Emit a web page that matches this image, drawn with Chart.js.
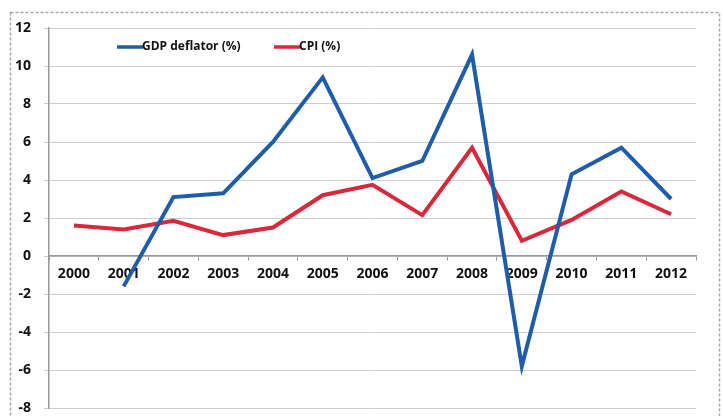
<!DOCTYPE html>
<html>
<head>
<meta charset="utf-8">
<script src="https://cdn.jsdelivr.net/npm/chart.js@4.4.1/dist/chart.umd.min.js"></script>
<style>
  html, body { margin: 0; padding: 0; background: #fff; }
  #wrap { position: relative; width: 723px; height: 416px; }
</style>
</head>
<body>
<div id="wrap"><canvas id="chart" width="723" height="416"></canvas></div>
<script>
// GDP deflator vs CPI, 2000-2012

var years = ['2000', '2001', '2002', '2003', '2004', '2005', '2006', '2007', '2008', '2009', '2010', '2011', '2012'];
var gdpDeflator = [null, -1.6, 3.1, 3.3, 6.0, 9.4, 4.1, 5.0, 10.6, -5.8, 4.3, 5.7, 3.0];
var cpi = [1.6, 1.4, 1.85, 1.1, 1.5, 3.2, 3.75, 2.15, 5.7, 0.8, 1.9, 3.4, 2.2];
var yTicks = [-8, -6, -4, -2, 0, 2, 4, 6, 8, 10, 12];

var BLUE = '#1F5CAA';
var RED = '#D8283C';
var FONT = 'Open Sans, sans-serif';

// scanned-looking frame around the whole figure
var framePlugin = {
  id: 'frame',
  beforeDraw: function (chart) {
    var ctx = chart.ctx;
    ctx.save();
    ctx.strokeStyle = '#a8a8a8';
    ctx.lineWidth = 1.5;
    ctx.setLineDash([3, 2]);
    ctx.strokeRect(10.5, 12.5, 709, 410);
    ctx.restore();
  }
};

// legend drawn inside the plot, left of centre
var legendPlugin = {
  id: 'insideLegend',
  afterDraw: function (chart) {
    var ctx = chart.ctx;
    var xs = [117, 274];
    var y = 47;
    chart.data.datasets.forEach(function (ds, i) {
      var x = xs[i];
      ctx.save();
      ctx.strokeStyle = ds.borderColor;
      ctx.lineWidth = 3.5;
      ctx.beginPath();
      ctx.moveTo(x, y);
      ctx.lineTo(x + 26, y);
      ctx.stroke();
      ctx.fillStyle = '#111';
      ctx.font = '700 12px ' + FONT;
      ctx.textBaseline = 'middle';
      ctx.fillText(ds.label, x + 25, y);
      ctx.restore();
    });
  }
};

new Chart(document.getElementById('chart').getContext('2d'), {
  type: 'line',
  data: {
    labels: years,
    datasets: [{
      label: 'GDP deflator (%)',
      data: gdpDeflator,
      borderColor: BLUE,
      backgroundColor: BLUE,
      borderWidth: 4,
      pointRadius: 0,
      tension: 0,
      fill: false
    }, {
      label: 'CPI (%)',
      data: cpi,
      borderColor: RED,
      backgroundColor: RED,
      borderWidth: 4,
      pointRadius: 0,
      tension: 0,
      fill: false
    }]
  },
  options: {
    responsive: false,
    animation: false,
    layout: { padding: { left: 13, right: 27, top: 28, bottom: 8 } },
    plugins: {
      legend: { display: false },
      tooltip: { enabled: false }
    },
    scales: {
      x: {
        position: { y: 0 },
        offset: true,
        afterFit: function (s) { s.height = 0; },
        grid: { drawOnChartArea: false, drawTicks: true, tickLength: 4, offset: true, color: '#999' },
        border: { color: '#999', width: 1.5 },
        ticks: { color: '#111', padding: 6, maxRotation: 0, font: { family: FONT, size: 14, weight: '700' } }
      },
      y: {
        min: -8,
        max: 12,
        afterFit: function (s) { s.width = 36; s.paddingTop = 0; s.paddingBottom = 0; },
        afterBuildTicks: function (s) { s.ticks = yTicks.map(function (v) { return { value: v }; }); },
        grid: { color: '#cfcfcf', lineWidth: 1, tickLength: 5, drawTicks: true },
        border: { color: '#999', width: 1.5 },
        ticks: { color: '#111', padding: 13, font: { family: FONT, size: 14, weight: '700' } }
      }
    }
  },
  plugins: [framePlugin, legendPlugin]
});
</script>
</body>
</html>
